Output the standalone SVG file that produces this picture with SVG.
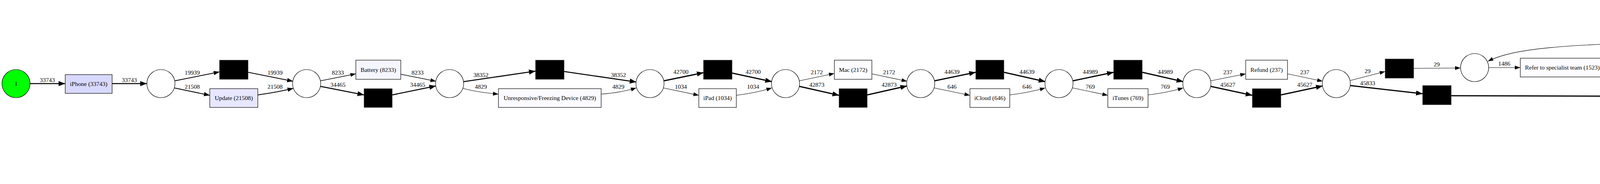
<svg xmlns="http://www.w3.org/2000/svg" width="5651" height="471" viewBox="0 0 5651 471">
<defs>
<marker id="a1" markerUnits="userSpaceOnUse" markerWidth="14" markerHeight="10" viewBox="0 0 14 10" refX="14" refY="5" orient="auto"><path d="M0,0L14,5L0,10z" fill="#000"/></marker>
<marker id="a2" markerUnits="userSpaceOnUse" markerWidth="15" markerHeight="11" viewBox="0 0 15 11" refX="15" refY="5.5" orient="auto"><path d="M0,0L15,5.5L0,11z" fill="#000"/></marker>
<marker id="a3" markerUnits="userSpaceOnUse" markerWidth="17" markerHeight="13" viewBox="0 0 17 13" refX="17" refY="6.5" orient="auto"><path d="M0,0L17,6.5L0,13z" fill="#000"/></marker>
</defs>
<style>
text{font-family:"Liberation Serif","Times New Roman",serif;font-size:15.5px;text-anchor:middle;fill:#000}
.p{fill:#fff;stroke:#000;stroke-width:1.2}
.b{stroke:#000;stroke-width:1.2}
.tau{fill:#000;stroke:#333;stroke-width:1}
.e path{fill:none;stroke:#000}
.t{stroke-width:1.1;marker-end:url(#a1)}
.m{stroke-width:1.4;marker-end:url(#a1)}
.s{stroke-width:2;marker-end:url(#a2)}
.k{stroke-width:2.6;marker-end:url(#a3)}
.x{stroke-width:3.1;marker-end:url(#a3)}
</style>
<rect width="5651" height="471" fill="#fff"/>
<g id="connectors" class="e">
<path class="k" d="M77,214L167,214"/>
<path class="k" d="M287,214L376,214"/>
<path class="s" d="M447,207L562,184"/>
<path class="s" d="M446,225L537,244"/>
<path class="s" d="M635,185L750,208"/>
<path class="s" d="M660,243Q710,236 751,226"/>
<path class="m" d="M820,207L911,189"/>
<path class="k" d="M820,221L932,243"/>
<path class="m" d="M1026,190L1116,208"/>
<path class="k" d="M1004,243L1116,220"/>
<path class="k" d="M1187,209L1371,182"/>
<path class="t" d="M1185,226Q1220,236 1276,241"/>
<path class="k" d="M1444,183L1629,210"/>
<path class="t" d="M1539,241Q1590,237 1629,225"/>
<path class="x" d="M1699,207L1801,186"/>
<path class="t" d="M1698,225L1789,244"/>
<path class="x" d="M1874,187L1976,209"/>
<path class="t" d="M1885,244Q1935,238 1976,225"/>
<path class="t" d="M2046,207L2136,188"/>
<path class="x" d="M2046,221L2148,244"/>
<path class="t" d="M2232,189L2322,208"/>
<path class="x" d="M2220,243L2322,220"/>
<path class="x" d="M2392,207L2498,185"/>
<path class="t" d="M2391,225L2483,244"/>
<path class="x" d="M2570,185L2676,209"/>
<path class="t" d="M2585,243Q2635,237 2676,225"/>
<path class="x" d="M2746,207L2851,185"/>
<path class="t" d="M2746,225L2836,244"/>
<path class="x" d="M2924,185L3029,209"/>
<path class="t" d="M2939,243Q2990,237 3029,225"/>
<path class="t" d="M3099,207L3189,189"/>
<path class="x" d="M3099,221L3206,244"/>
<path class="t" d="M3296,189L3386,208"/>
<path class="x" d="M3279,243L3386,220"/>
<path class="t" d="M3457,206L3546,183"/>
<path class="x" d="M3457,219L3642,240"/>
<path class="t" d="M3619,175L3739,174"/>
<path class="t" d="M3811,173L3892,173"/>
<path class="t" d="M4107,173L4196,173"/>
<path class="t" d="M4265,157L4333,124"/>
<path class="t" d="M4268,181Q4295,186 4333,186"/>
<path class="t" d="M4333,107C4000,112 3870,125 3809,157"/>
<path class="t" d="M4406,196L4472,215"/>
<path class="x" d="M3715,245L4370,247C4420,247 4450,240 4474,232"/>
<path class="x" d="M4543,225L4631,225"/>
<path class="x" d="M4705,225L4793,225"/>
<path class="t" d="M4856,200C4890,160 4930,125 4978,106"/>
<path class="x" d="M4864,212L4978,175"/>
<path class="k" d="M4865,225L4979,225"/>
<path class="m" d="M4864,239L4972,274"/>
<path class="k" d="M4856,251C4885,285 4930,335 4980,346"/>
<path class="m" d="M4843,258C4860,310 4910,390 4977,417"/>
<path class="t" d="M5137,106C5180,122 5230,160 5261,199"/>
<path class="x" d="M5138,174L5255,213"/>
<path class="k" d="M5137,225L5252,225"/>
<path class="m" d="M5147,273L5255,239"/>
<path class="k" d="M5137,346C5180,325 5230,285 5263,250"/>
<path class="m" d="M5140,417C5200,390 5245,320 5273,259"/>
<path class="k" d="M5316,202L5418,120"/>
<path class="x" d="M5323,225L5411,225"/>
<path class="x" d="M5484,225L5573,225"/>
<path class="k" d="M5411,81C5330,50 5220,22 5100,20C4950,20 4880,70 4842,191"/>
<text x="121" y="210">33743</text>
<text x="331" y="210">33743</text>
<text x="492" y="191">19939</text>
<text x="492" y="227">21508</text>
<text x="704" y="191">19939</text>
<text x="704" y="227">21508</text>
<text x="865" y="191">8233</text>
<text x="865" y="222">34465</text>
<text x="1069" y="191">8233</text>
<text x="1069" y="222">34465</text>
<text x="1231" y="197">38352</text>
<text x="1231" y="227">4829</text>
<text x="1583" y="197">38352</text>
<text x="1583" y="227">4829</text>
<text x="1743" y="189">42700</text>
<text x="1743" y="227">1034</text>
<text x="1928" y="189">42700</text>
<text x="1928" y="227">1034</text>
<text x="2091" y="190">2172</text>
<text x="2091" y="222">42873</text>
<text x="2276" y="190">2172</text>
<text x="2276" y="222">42873</text>
<text x="2437" y="189">44639</text>
<text x="2437" y="227">646</text>
<text x="2629" y="189">44639</text>
<text x="2629" y="227">646</text>
<text x="2791" y="189">44989</text>
<text x="2791" y="227">769</text>
<text x="2983" y="189">44989</text>
<text x="2983" y="227">769</text>
<text x="3143" y="190">237</text>
<text x="3143" y="222">45627</text>
<text x="3340" y="190">237</text>
<text x="3340" y="222">45627</text>
<text x="3501" y="187">29</text>
<text x="3501" y="218">45833</text>
<text x="3678" y="170">29</text>
<text x="3851" y="168">1486</text>
<text x="4151" y="168">1486</text>
<text x="4151" y="110">34</text>
<text x="4300" y="130">34</text>
<text x="4300" y="178">11</text>
<text x="4437" y="198">11</text>
<text x="4151" y="241">45833</text>
<text x="4587" y="221">45844</text>
<text x="4748" y="221">45844</text>
<text x="4909" y="129">2460</text>
<text x="4909" y="186">40929</text>
<text x="4909" y="221">34802</text>
<text x="4909" y="243">8736</text>
<text x="4909" y="278">29956</text>
<text x="4909" y="338">5934</text>
<text x="5205" y="129">2460</text>
<text x="5205" y="186">40929</text>
<text x="5205" y="221">34802</text>
<text x="5205" y="243">8736</text>
<text x="5205" y="278">29956</text>
<text x="5205" y="338">5934</text>
<text x="5205" y="18">38590</text>
<text x="5367" y="141">38590</text>
<text x="5367" y="221">45844</text>
<text x="5528" y="221">45844</text>
</g>
<g id="start"><circle cx="41" cy="214" r="36" fill="#00ff00" stroke="#000" stroke-width="1.2"/><text x="41" y="219">1</text></g>
<g id="t_iphone"><rect class="b" x="167" y="191" width="120" height="48" fill="#d9d9ff"/><text x="227" y="220">iPhone (33743)</text></g>
<g id="p1"><circle class="p" cx="412" cy="214" r="36"/></g>
<g id="tau1"><rect class="tau" x="562" y="154" width="73" height="49"/></g>
<g id="t_update"><rect class="b" x="537" y="227" width="123" height="48" fill="#e7e7ff"/><text x="598.5" y="256">Update (21508)</text></g>
<g id="p2"><circle class="p" cx="785" cy="214" r="36"/></g>
<g id="t_battery"><rect class="b" x="911" y="154" width="115" height="49" fill="#f6f6ff"/><text x="968.5" y="184">Battery (8233)</text></g>
<g id="tau2"><rect class="tau" x="932" y="227" width="72" height="48"/></g>
<g id="p3"><circle class="p" cx="1151" cy="214" r="36"/></g>
<g id="tau3"><rect class="tau" x="1371" y="154" width="73" height="49"/></g>
<g id="t_unresp"><rect class="b" x="1276" y="227" width="263" height="48" fill="#fafaff"/><text x="1407.5" y="256">Unresponsive/Freezing Device (4829)</text></g>
<g id="p4"><circle class="p" cx="1664" cy="214" r="36"/></g>
<g id="tau4"><rect class="tau" x="1801" y="154" width="73" height="49"/></g>
<g id="t_ipad"><rect class="b" x="1789" y="227" width="96" height="48" fill="#fefeff"/><text x="1837" y="256">iPad (1034)</text></g>
<g id="p5"><circle class="p" cx="2011" cy="214" r="36"/></g>
<g id="t_mac"><rect class="b" x="2136" y="154" width="96" height="49" fill="#fdfdff"/><text x="2184" y="184">Mac (2172)</text></g>
<g id="tau5"><rect class="tau" x="2148" y="227" width="72" height="48"/></g>
<g id="p6"><circle class="p" cx="2357" cy="214" r="36"/></g>
<g id="tau6"><rect class="tau" x="2498" y="154" width="72" height="49"/></g>
<g id="t_icloud"><rect class="b" x="2483" y="227" width="102" height="48" fill="#fefeff"/><text x="2534" y="256">iCloud (646)</text></g>
<g id="p7"><circle class="p" cx="2711" cy="214" r="36"/></g>
<g id="tau7"><rect class="tau" x="2851" y="154" width="73" height="49"/></g>
<g id="t_itunes"><rect class="b" x="2836" y="227" width="103" height="48" fill="#fefeff"/><text x="2887.5" y="256">iTunes (769)</text></g>
<g id="p8"><circle class="p" cx="3064" cy="214" r="36"/></g>
<g id="t_refund"><rect class="b" x="3189" y="154" width="107" height="49" fill="#ffffff"/><text x="3242.5" y="184">Refund (237)</text></g>
<g id="tau8"><rect class="tau" x="3206" y="227" width="73" height="48"/></g>
<g id="p9"><circle class="p" cx="3421" cy="214" r="36"/></g>
<g id="tau9"><rect class="tau" x="3546" y="151" width="73" height="49"/></g>
<g id="tau10"><rect class="tau" x="3642" y="219" width="73" height="49"/></g>
<g id="p10"><circle class="p" cx="3775" cy="173" r="36"/></g>
<g id="t_refer"><rect class="b" x="3892" y="149" width="215" height="48" fill="#fdfdff"/><text x="3999.5" y="178">Refer to specialist team (1523)</text></g>
<g id="p11"><circle class="p" cx="4232" cy="173" r="36"/></g>
<g id="tau11"><rect class="tau" x="4333" y="82" width="73" height="49"/></g>
<g id="tau12"><rect class="tau" x="4333" y="161" width="73" height="49"/></g>
<g id="p12"><circle class="p" cx="4507" cy="225" r="36"/></g>
<g id="tau13"><rect class="tau" x="4631" y="201" width="74" height="48"/></g>
<g id="p13"><circle class="p" cx="4829" cy="225" r="36"/></g>
<g id="t_restart"><rect class="b" x="4954" y="57" width="207" height="48" fill="#fcfcff"/><text x="5057.5" y="86">Request device restart (2598)</text></g>
<g id="t_url"><rect class="b" x="4977" y="129" width="161" height="48" fill="#ccccff"/><text x="5057.5" y="158">Provide URL (45663)</text></g>
<g id="t_dm"><rect class="b" x="4979" y="201" width="158" height="48" fill="#d5d5ff"/><text x="5058" y="230">Request DM (37245)</text></g>
<g id="t_ios"><rect class="b" x="4959" y="273" width="198" height="48" fill="#f5f5ff"/><text x="5058" y="302">Request iOS version (8957)</text></g>
<g id="t_investigate"><rect class="b" x="4968" y="346" width="179" height="47" fill="#d6d6ff"/><text x="5057.5" y="374">Investigate issue (36854)</text></g>
<g id="t_model"><rect class="b" x="4954" y="417" width="207" height="48" fill="#f8f8ff"/><text x="5057.5" y="446">Request device model (6039)</text></g>
<g id="p14"><circle class="p" cx="5287" cy="225" r="36"/></g>
<g id="tau14"><rect class="tau" x="5411" y="71" width="73" height="49"/></g>
<g id="tau15"><rect class="tau" x="5411" y="201" width="73" height="48"/></g>
<g id="end"><circle cx="5609" cy="225" r="36" fill="#ffa500" stroke="#000" stroke-width="1.2"/></g>
</svg>
